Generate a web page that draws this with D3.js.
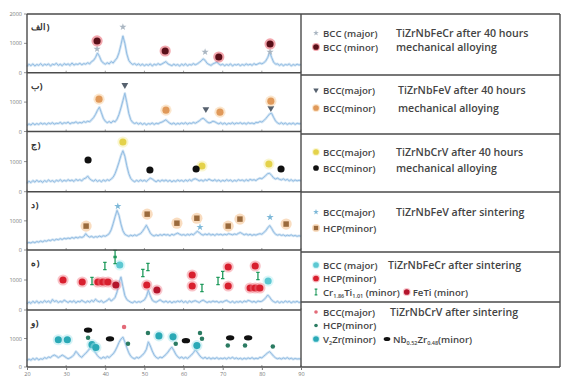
<!DOCTYPE html>
<html>
<head>
<meta charset="utf-8">
<script src="https://cdn.jsdelivr.net/npm/d3@7"></script>
<style>
  body { margin: 0; background: #fff; }
  svg { display: block; }
  text { font-family: "Open Sans", sans-serif; }
  .lg { font-family: "Open Sans", sans-serif; font-size: 9.6px; font-weight: 600; fill: #444; }
  .note { font-family: "Open Sans", sans-serif; font-size: 10.6px; font-weight: 600; fill: #444; }
</style>
</head>
<body>
<svg id="chart" width="563" height="381"></svg>
<script>
// 2theta grid of the measured patterns
const thetaStart = 20
const thetaStep = 0.5
const xTicks = [20, 30, 40, 50, 60, 70, 80, 90]
const yTicksFirst = [0, 1000, 2000]
const yTicksRest = [0, 1000]
const panelTags = ["الف", "ب", "ج", "د", "ه", "و"]

// intensities (counts), 20..90 deg every 0.5 deg
const patternA = [210,290,240,300,230,280,250,310,240,290, 260,300,230,290,270,320,250,290,240,310,
  270,300,250,330,260,300,280,320,270,310, 290,340,300,380,420,520,670,560,400,330,
  290,340,300,380,330,420,500,680,950,1250, 1000,640,420,330,280,310,260,300,250,290,
  240,280,250,300,230,290,260,310,270,300, 340,380,300,270,240,290,250,280,230,290,
  250,300,240,280,260,310,270,300,350,400, 470,420,320,280,250,300,330,360,300,260,
  290,240,280,250,300,230,280,260,290,240, 280,250,300,260,290,250,310,270,300,330,
  300,340,400,520,700,520,360,290,300,250, 290,240,280,260,300,230,280,250,290,260, 280]
const patternB = [200,260,220,280,230,270,240,290,250,280, 240,290,260,300,250,280,270,310,260,300,
  280,320,260,300,290,330,280,310,290,340, 310,350,330,400,470,580,720,830,640,450,
  350,300,340,290,360,330,420,580,800,1050, 1300,980,620,400,310,270,300,250,290,240,
  280,230,270,250,290,240,280,260,300,320, 360,400,330,280,250,290,240,280,250,290,
  260,300,250,290,270,310,280,320,360,420, 450,400,330,290,310,350,330,290,260,300,
  250,290,240,280,260,300,250,290,270,300, 260,290,250,300,270,290,260,310,300,340,
  320,370,440,520,600,620,480,360,290,260, 300,250,290,240,280,250,290,240,280,260, 270]
const patternC = [280,350,300,370,320,380,330,360,310,370, 330,390,340,370,320,380,350,400,340,380,
  350,400,360,390,340,410,370,400,360,430, 450,520,430,380,350,400,340,380,330,390,
  350,400,370,420,480,600,780,980,1200,1360, 1180,860,600,440,370,330,380,340,390,350,
  380,340,400,450,420,370,330,380,340,390, 350,390,340,380,330,370,340,390,350,380,
  340,390,350,400,360,410,430,400,360,390, 350,400,370,420,380,360,400,350,390,340,
  380,350,400,360,390,340,380,350,400,370, 390,350,400,360,410,380,400,370,420,450,
  430,480,540,600,610,540,460,420,450,410, 390,430,380,410,360,400,350,390,360,380, 360]
const patternD = [230,260,240,280,250,290,270,310,280,320, 300,340,320,360,330,370,350,390,360,400,
  380,410,390,430,400,440,410,450,430,460, 560,480,440,470,430,460,440,480,450,490,
  470,510,560,690,900,1140,1360,1190,890,660, 540,500,470,510,480,520,490,530,560,640,
  740,850,720,580,510,480,520,490,530,500, 540,510,530,490,540,510,550,580,540,510,
  530,500,540,510,550,520,580,640,600,540, 510,550,520,560,510,540,500,550,520,540,
  510,540,520,560,540,520,550,530,570,600, 560,520,550,510,540,500,530,510,540,560,
  540,600,660,760,840,740,620,540,510,530, 500,520,480,510,490,520,480,500,470,490, 470]
const patternE = [200,270,220,290,240,300,230,280,250,310, 260,300,240,350,280,310,250,290,260,330,
  290,250,300,260,310,240,290,270,320,280, 250,300,260,320,280,360,300,270,310,250,
  280,320,380,300,350,420,600,900,1100,780, 480,350,300,260,240,290,250,280,260,300,
  340,450,660,470,330,280,260,300,340,290, 260,300,250,290,240,280,260,300,270,310,
  250,290,240,300,260,290,310,280,250,300, 330,290,250,280,260,300,270,290,250,280,
  260,300,320,280,250,290,240,280,260,290, 250,300,270,320,300,260,290,250,300,280,
  290,340,410,500,430,330,280,250,290,240, 280,250,300,260,290,240,280,260,290,250, 270]
const patternF = [220,280,240,300,260,310,250,290,270,330, 300,350,330,390,420,380,330,370,420,380,
  330,290,320,360,430,550,470,380,340,420, 480,560,640,700,620,500,400,330,300,350,
  310,370,330,400,460,560,700,860,980,1050, 880,680,500,380,320,290,340,310,360,420,
  500,620,880,740,560,420,340,300,350,320, 380,440,520,620,700,580,450,360,310,350,
  300,340,300,360,420,500,600,520,420,340, 300,340,290,330,280,320,290,330,280,310,
  290,320,280,330,300,340,290,320,280,310, 270,310,280,320,290,330,280,310,290,340,
  320,380,440,500,540,460,380,320,290,310, 280,320,290,330,280,310,270,300,280,290, 280]

// identified reflections [2theta, counts]
const aMajor = [[44.5, 1558], [65.5, 706], [37.9, 808], [82.1, 706]]
const aMinor = [[37.9, 1081], [55.3, 740], [69.0, 535], [82.1, 979]]
const bMajor = [[45.0, 1579], [65.7, 760], [82.3, 795]]
const bMinor = [[38.4, 1101], [55.5, 726], [69.3, 658], [82.3, 1033]]
const cMajor = [[44.5, 1650], [64.7, 853], [81.8, 920]]
const cMinor = [[35.6, 1052], [51.4, 720], [63.2, 754], [84.9, 754]]
const dMajor = [[43.2, 1500], [64.2, 785], [82.1, 1125]]
const dHcp = [[35.1, 820], [50.7, 1230], [58.3, 920], [63.4, 1090], [71.4, 820], [74.4, 1060], [86.2, 890]]
const eMajor = [[43.7, 1500], [81.6, 966]]
const eHcp = [[29.2, 1000], [34.1, 933], [38.1, 933], [39.4, 933], [40.7, 933], [50.6, 833], [62.2, 1166],
  [62.2, 800], [71.4, 1433], [71.4, 800], [78.3, 1466], [77.0, 733], [78.3, 733], [79.5, 733]]
const eCrTi = [[36.6, 966], [39.9, 1466], [42.5, 1866], [42.5, 1666], [49.6, 1233], [50.9, 1433],
  [64.7, 733], [68.8, 966], [70.0, 1166], [79.0, 1133]]
const eFeTi = [[42.7, 833], [53.2, 666]]
const fMajor = [[44.8, 1400]]
const fHcp = [[35.6, 1024], [45.8, 819], [50.9, 1194], [58.0, 819], [64.2, 1194], [64.7, 990], [71.3, 751], [75.7, 751], [82.8, 717]]
const fV2Zr = [[28.0, 956], [30.3, 956], [36.6, 785], [37.6, 683], [53.7, 1092], [57.3, 1058], [63.4, 751]]
const fNbZr = [[35.6, 1297], [41.2, 990], [60.6, 922], [71.9, 1024], [76.5, 1024]]

const sampleNotes = [
  ["TiZrNbFeCr after 40 hours", "mechanical alloying"],
  ["TiZrNbFeV after 40 hours", "mechanical alloying"],
  ["TiZrNbCrV after 40 hours", "mechanical alloying"],
  ["TiZrNbFeV after sintering", ""],
  ["TiZrNbFeCr after sintering", ""],
  ["TiZrNbCrV after sintering", ""]
]

// layout
const plotLeft = 27, plotRight = 301, boxRight = 560
const plotEdges = [14, 72.7, 131.5, 191.7, 250, 310, 367]
const boxEdges = [14, 75, 134, 192, 252, 302, 367]
const rowY = [[33, 47], [90, 108], [152, 168], [212, 228], [265, 278.5, 292], [312, 325.5, 339]]
const noteX = [396, 398, 396, 396, 388, 390]

const panels = [
  { curve: patternA, series: [
    { name: "BCC (major)", pts: aMajor, shape: "star", color: "#aab6c2" },
    { name: "BCC (minor)", pts: aMinor, shape: "circle", color: "#5a0f18", halo: "#e23a4a" }] },
  { curve: patternB, series: [
    { name: "BCC(major)", pts: bMajor, shape: "tri", color: "#56616e" },
    { name: "BCC(minor)", pts: bMinor, shape: "circle", color: "#e0995a", halo: "#f6c890" }] },
  { curve: patternC, series: [
    { name: "BCC(major)", pts: cMajor, shape: "circle", color: "#e4d24a", halo: "#f4ec9a" },
    { name: "BCC(minor)", pts: cMinor, shape: "circle", color: "#111" }] },
  { curve: patternD, series: [
    { name: "BCC(major)", pts: dMajor, shape: "star", color: "#7db8d8" },
    { name: "HCP(minor)", pts: dHcp, shape: "square", color: "#9a6a3c", halo: "#f2b270" }] },
  { curve: patternE, series: [
    { name: "BCC (major)", pts: eMajor, shape: "circle", color: "#5cc8d2", halo: "#b0eef2" },
    { name: "HCP(minor)", pts: eHcp, shape: "circle", color: "#d81f2e", halo: "#f27a86" },
    { name: "Cr_{1.86}Ti_{1.01} (minor)", pts: eCrTi, shape: "bar", color: "#1f9a5c" },
    { name: "FeTi (minor)", pts: eFeTi, shape: "circle", color: "#b4142c", halo: "#f08090" }] },
  { curve: patternF, series: [
    { name: "BCC(major)", pts: fMajor, shape: "dot", color: "#e36a78" },
    { name: "HCP(minor)", pts: fHcp, shape: "dot", color: "#2b7b62" },
    { name: "V_{2}Zr(minor)", pts: fV2Zr, shape: "circle", color: "#2aa9b6", halo: "#9fe3ea" },
    { name: "Nb_{0.52}Zr_{0.48}(minor)", pts: fNbZr, shape: "oval", color: "#111" }] }
]

const shapes = {
  star: d3.symbol(d3.symbolStar, 16)(),
  circle: d3.symbol(d3.symbolCircle, 40)(),
  tri: d3.symbol(d3.symbolTriangle, 20)(),
  square: d3.symbol(d3.symbolSquare, 30)(),
  dot: d3.symbol(d3.symbolCircle, 16)(),
  oval: d3.symbol(d3.symbolCircle, 30)(),
  bar: "M-1.7,-3.6H1.7M0,-3.6V3.6M-1.7,3.6H1.7"
}

const svg = d3.select("#chart")

const x = d3.scaleLinear()
  .domain([20, 90])
  .range([plotLeft, plotRight])

function drawMark (g, s, px, py, small) {
  if (s.halo) {
    g.append("circle").attr("cx", px).attr("cy", py).attr("r", small ? 4 : 5.6)
      .attr("fill", s.halo).attr("opacity", 0.45)
  }
  let tf = `translate(${px},${py})`
  if (s.shape === "tri") tf += " rotate(180)"
  if (s.shape === "oval") tf += " scale(1.35,0.85)"
  if (small) tf += " scale(0.8)"
  g.append("path")
    .attr("d", shapes[s.shape])
    .attr("transform", tf)
    .attr("fill", s.shape === "bar" ? "none" : s.color)
    .attr("stroke", s.shape === "bar" ? s.color : "none")
    .attr("stroke-width", 1.3)
}

function richText (sel, str) {
  const parts = str.split(/(_\{[^}]*\})/)
  let low = false
  parts.forEach(p => {
    if (!p) return
    if (p.startsWith("_{")) {
      sel.append("tspan").attr("dy", low ? 0 : 2.5).attr("font-size", "5.5px").text(p.slice(2, -1))
      low = true
    } else {
      sel.append("tspan").attr("dy", low ? -2.5 : 0).text(p)
      low = false
    }
  })
  return sel
}

panels.forEach((p, i) => {
  const y0 = plotEdges[i + 1], y1 = plotEdges[i]
  const y = d3.scaleLinear()
    .domain([0, 2000])
    .range([y0, y1])
  const g = svg.append("g")

  const line = d3.line()
    .x((d, k) => x(thetaStart + k * thetaStep))
    .y(d => y(d))

  g.append("path").datum(p.curve)
    .attr("d", line)
    .attr("fill", "none")
    .attr("stroke", "#d3e5f4")
    .attr("stroke-width", 2.6)
    .attr("stroke-linejoin", "round")
  g.append("path").datum(p.curve)
    .attr("d", line)
    .attr("fill", "none")
    .attr("stroke", "#93bde3")
    .attr("stroke-width", 1)
    .attr("stroke-linejoin", "round")

  // y axis ticks
  const ticks = i === 0 ? yTicksFirst : yTicksRest
  ticks.forEach(t => {
    g.append("line").attr("x1", plotLeft - 3).attr("x2", plotLeft)
      .attr("y1", y(t)).attr("y2", y(t)).attr("stroke", "#777").attr("stroke-width", 0.8)
    g.append("text").attr("x", plotLeft - 5).attr("y", y(t) + 2)
      .attr("text-anchor", "end").attr("font-size", "5.5px").attr("fill", "#777").text(t)
  })
  // small x ticks on each panel floor
  xTicks.forEach(t => {
    g.append("line").attr("x1", x(t)).attr("x2", x(t))
      .attr("y1", y0).attr("y2", y0 - 2).attr("stroke", "#888").attr("stroke-width", 0.8)
  })

  p.series.forEach(s => {
    s.pts.forEach(d => drawMark(g, s, x(d[0]), y(d[1])))
  })

  // panel tag: arabic letter(s) followed by a closing bracket on the right
  const tag = g.append("text")
    .attr("x", plotLeft + 4).attr("y", y1 + 16)
    .attr("font-family", "DejaVu Sans").attr("font-weight", "bold")
    .attr("font-size", "9px").attr("fill", "#333")
    .text(panelTags[i])
  g.append("text")
    .attr("x", plotLeft + 4.5 + tag.node().getComputedTextLength()).attr("y", y1 + 16)
    .attr("font-family", "DejaVu Sans").attr("font-weight", "bold")
    .attr("font-size", "9px").attr("fill", "#333")
    .text(")")

  // legend box rows
  const lg = svg.append("g")
  const notes = sampleNotes[i]
  rowY[i].forEach((ry, r) => {
    const s = p.series[r]
    drawMark(lg, s, 316, ry, true)
    const t = richText(lg.append("text").attr("class", "lg").attr("x", 323).attr("y", ry + 3.5), s.name)
    if (r < 2 && notes[r]) {
      lg.append("text").attr("class", "note").attr("x", noteX[i]).attr("y", ry + 3.5).text(notes[r])
    }
    if (r === 2) {
      const s2 = p.series[3]
      const end = 323 + t.node().getComputedTextLength()
      const mx = Math.max(i === 4 ? 396 : 387, end + 7)
      drawMark(lg, s2, mx, ry, true)
      richText(lg.append("text").attr("class", "lg").attr("x", mx + 6).attr("y", ry + 3.5), s2.name)
    }
  })
})

// frames and separators
const frame = svg.append("g").attr("stroke", "#4a4a4a").attr("stroke-width", 1.4).attr("fill", "none")
frame.append("line").attr("x1", plotLeft).attr("x2", plotLeft).attr("y1", plotEdges[0]).attr("y2", plotEdges[6])
frame.append("line").attr("x1", plotRight).attr("x2", plotRight).attr("y1", plotEdges[0]).attr("y2", plotEdges[6])
frame.append("line").attr("x1", boxRight).attr("x2", boxRight).attr("y1", boxEdges[0]).attr("y2", boxEdges[6])
plotEdges.forEach(e => {
  frame.append("line").attr("x1", plotLeft).attr("x2", plotRight).attr("y1", e).attr("y2", e)
})
boxEdges.forEach(e => {
  frame.append("line").attr("x1", plotRight).attr("x2", boxRight).attr("y1", e).attr("y2", e)
})

// bottom 2theta axis
const xAxis = svg.append("g")
  .attr("transform", `translate(0,${plotEdges[6]})`)
  .call(d3.axisBottom(x).tickValues(xTicks).tickSize(3).tickPadding(2))
xAxis.select(".domain").remove()
xAxis.selectAll("line").attr("stroke", "#777")
xAxis.selectAll("text").attr("font-size", "5.5px").attr("fill", "#777").attr("font-family", "Open Sans")

svg.append("text")
  .attr("x", 164).attr("y", 388.5)
  .attr("text-anchor", "middle").attr("font-size", "8px").attr("fill", "#666")
  .text("2θ (degree)")
</script>
</body>
</html>
